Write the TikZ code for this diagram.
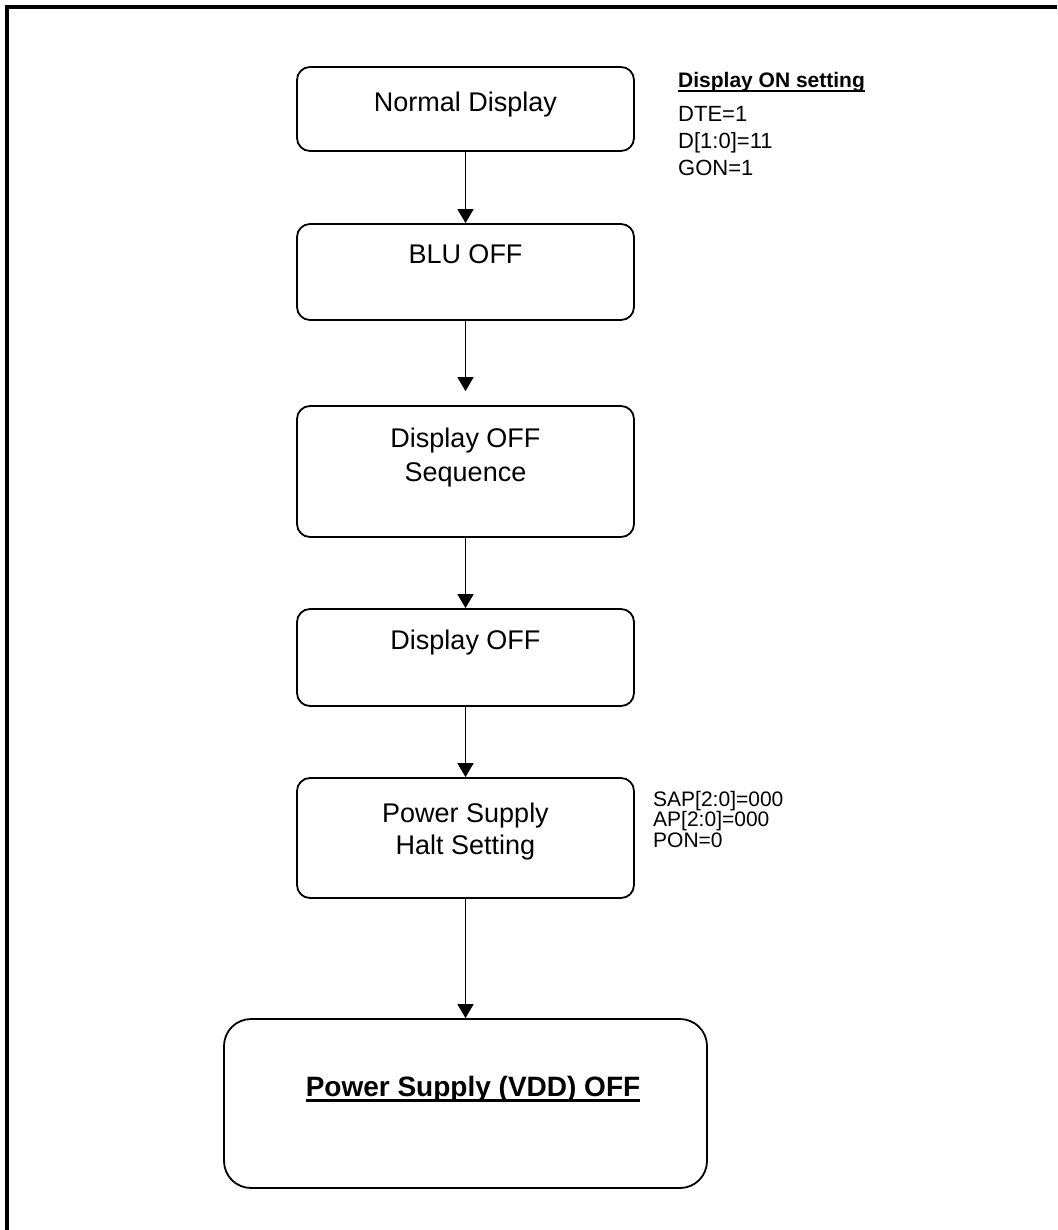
\documentclass[tikz,border=0pt]{standalone}
\usepackage{fontspec}
\setmainfont{Liberation Sans}
\usetikzlibrary{arrows.meta,calc,positioning}
\newcommand{\ulfix}[1]{\setbox0=\hbox{#1}\rlap{\rule[-0.2em]{\wd0}{0.085em}}\box0}

\begin{document}
\begin{tikzpicture}[x=1pt,y=-1pt,
  stepbox/.style={draw,line width=1.8pt,rounded corners=13pt,minimum width=337pt,inner sep=0pt},
  flow/.style={line width=1.7pt,-{Triangle[length=14pt,width=16pt]}},
  boxtext/.style={align=center,anchor=base,inner sep=0pt},
  note/.style={align=left,anchor=base west,inner sep=0pt}]
\useasboundingbox (0,0) rectangle (1057,1230);
\draw[line width=4pt] (7,1230) -- (7,7) -- (1057,7);
\node[stepbox,minimum height=84pt] (nd) at (465.5,109) {};
\node[stepbox,minimum height=96pt] (blu) at (465.5,272) {};
\node[stepbox,minimum height=131pt] (seq) at (465.5,471.5) {};
\node[stepbox,minimum height=97pt] (doff) at (465.5,657.5) {};
\node[stepbox,minimum height=120pt] (halt) at (465.5,838) {};
\node[stepbox,minimum width=483pt,minimum height=169pt,rounded corners=27pt] (vdd) at (465.5,1103.5) {};
\node[boxtext,font=\fontsize{27}{34}\selectfont] (nd-t) at ($(nd.north)+(0,45)$) {Normal Display};
\node[boxtext,font=\fontsize{27}{34}\selectfont] (blu-t) at ($(blu.north)+(0,40)$) {BLU OFF};
\node[boxtext,font=\fontsize{27}{34}\selectfont] (seq-t) at ($(seq.north)+(0,76)$) {Display OFF\\Sequence};
\node[boxtext,font=\fontsize{27}{34}\selectfont] (doff-t) at ($(doff.north)+(0,41)$) {Display OFF};
\node[boxtext,font=\fontsize{27}{32}\selectfont] (halt-t) at ($(halt.north)+(0,77)$) {Power Supply\\Halt Setting};
\node[boxtext,font=\fontsize{28}{34}\selectfont\bfseries] (vdd-t) at (473,1096) {\ulfix{Power Supply (VDD) OFF}};
\node[note,font=\fontsize{22}{27}\selectfont] (dset) at (678,176) {{\fontsize{21}{27}\selectfont\bfseries\ulfix{Display ON setting}}\\[7pt]DTE=1\\D[1:0]=11\\GON=1};
\node[note,font=\fontsize{21}{18.5}\selectfont] (pset) at (653,847) {SAP[2:0]=000\\AP[2:0]=000\\PON=0};
\draw[flow] (nd) -- (blu);
\draw[flow,shorten >=14pt] (blu) -- (seq);
\draw[flow] (seq) -- (doff);
\draw[flow] (doff) -- (halt);
\draw[flow] (halt) -- (vdd);
\end{tikzpicture}
\end{document}
